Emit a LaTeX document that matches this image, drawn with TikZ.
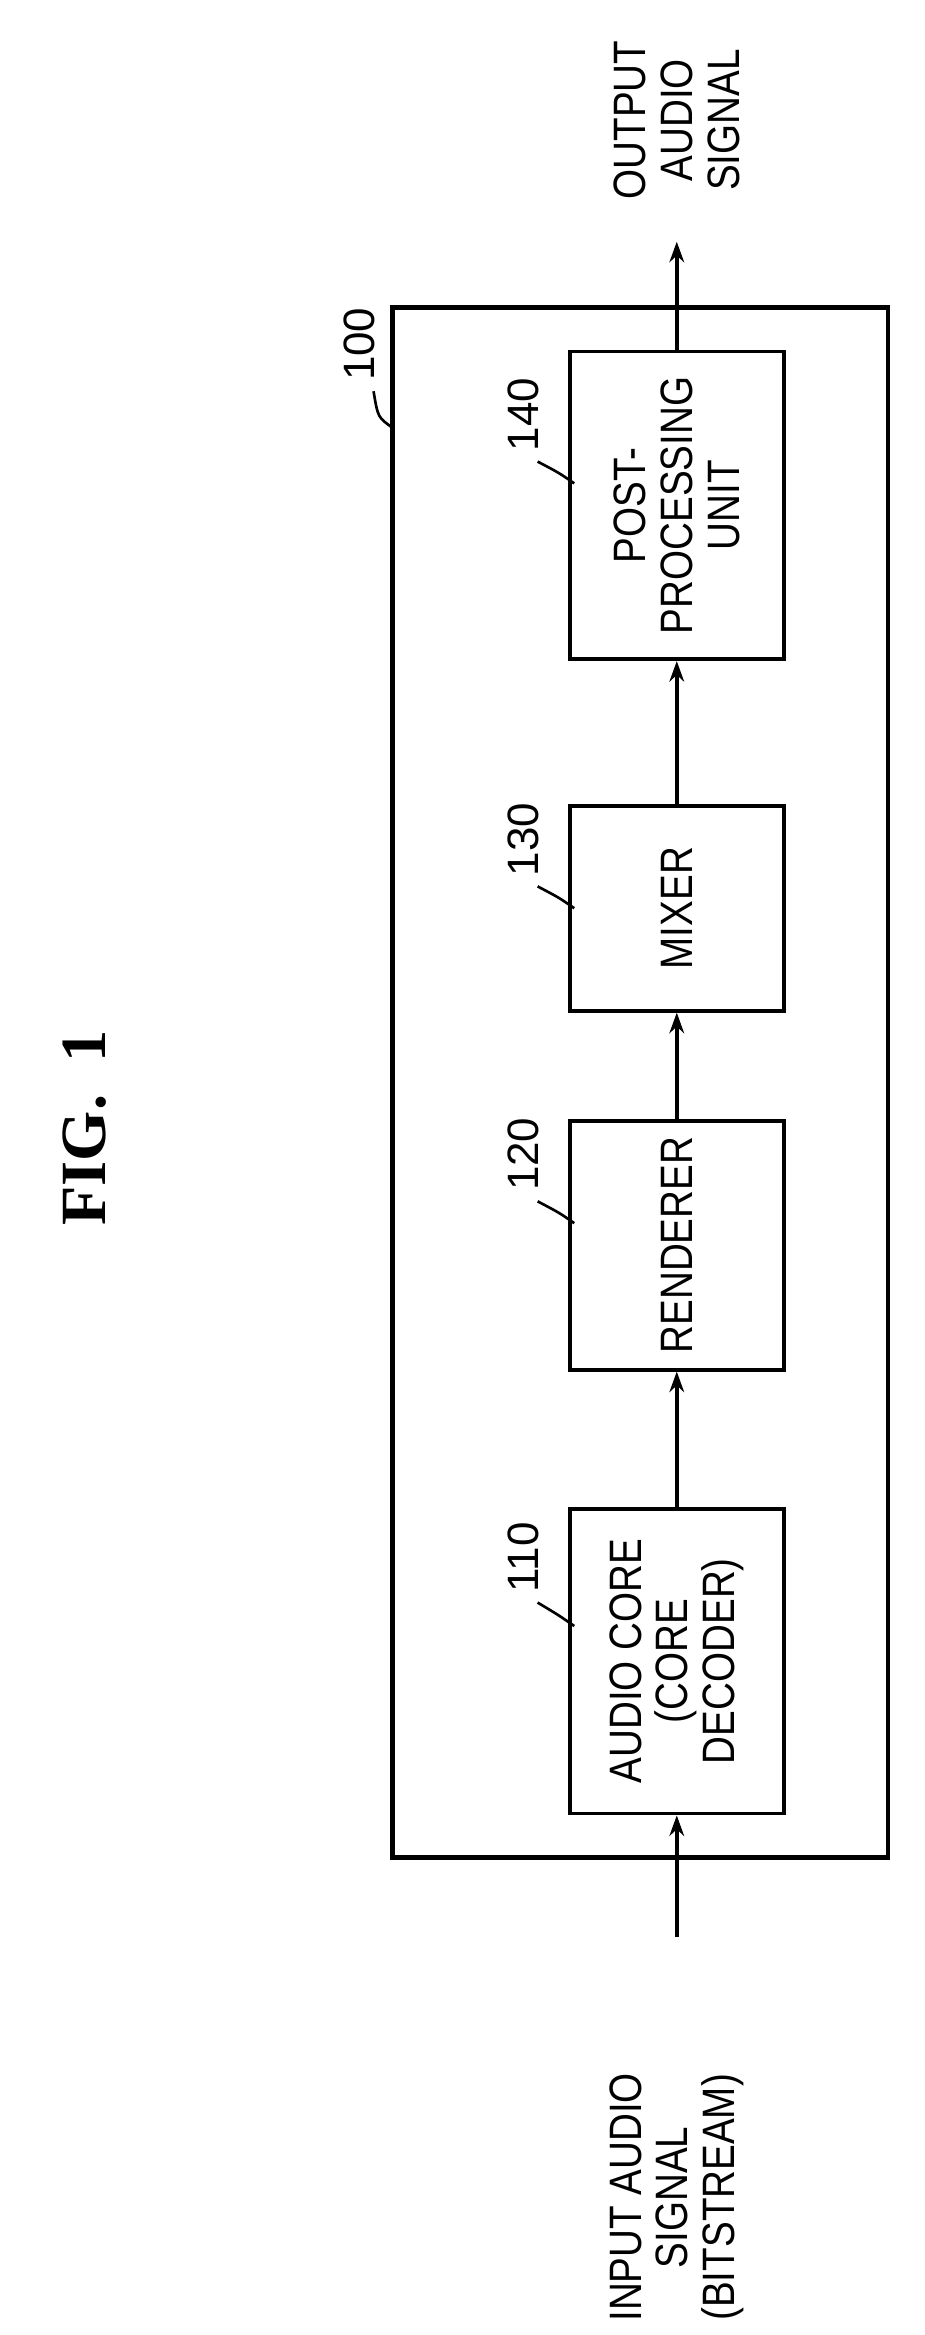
\documentclass[tikz,border=0pt]{standalone}
\usepackage{fontspec}
\setmainfont{Liberation Sans}
\usetikzlibrary{arrows.meta}
\begin{document}
\begin{tikzpicture}[x=0.5pt,y=-0.5pt,
 blk/.style={draw,line width=1.3pt,minimum width=73pt,inner sep=0pt},
 txt/.style={rotate=90,align=center,font=\fontsize{15.5}{16}\selectfont\addfontfeatures{FakeStretch=0.85}},
 num/.style={rotate=90,font=\fontsize{15}{16}\selectfont},
 arr/.style={line width=1.3pt,-{Stealth[length=7pt,width=5pt]}},
 lead/.style={line width=0.9pt}]
\useasboundingbox (0,0) rectangle (631,1594);
\node[draw,line width=1.5pt,minimum width=169pt,minimum height=529pt,inner sep=0pt] (box) at (437,739) {};
\node[blk,minimum height=104pt] (b110) at (462,1134) {};
\node[txt] at (b110) {AUDIO CORE\\(CORE\\DECODER)};
\node[blk,minimum height=85pt] (b120) at (462,850) {};
\node[txt] at (b120) {RENDERER};
\node[blk,minimum height=70pt] (b130) at (462,620) {};
\node[txt] at (b130) {MIXER};
\node[blk,minimum height=105pt] (b140) at (462,345) {};
\node[txt] at (b140) {POST-\\PROCESSING\\UNIT};
\coordinate (in) at (462,1322);
\coordinate (out) at (462,165);
\draw[arr] (in) -- (b110.south);
\draw[arr] (b110.north) -- (b120.south);
\draw[arr] (b120.north) -- (b130.south);
\draw[arr] (b130.north) -- (b140.south);
\draw[arr] (b140.north) -- (out);
\node[txt] (inl) at (462,1500) {INPUT AUDIO\\SIGNAL\\(BITSTREAM)};
\node[txt] (outl) at (462,82) {OUTPUT\\AUDIO\\SIGNAL};
\node[rotate=90,font=\bfseries\fontspec{Liberation Serif}\fontsize{22}{24}\selectfont] (fig) at (58,770) {FIG.~~1};
\node[num] (n110) at (357,1063) {110};
\node[num] (n120) at (357,788) {120};
\node[num] (n130) at (357,573) {130};
\node[num] (n140) at (357,283) {140};
\node[num] (n100) at (245,235) {100};
\draw[lead] (n110.west) ++(10,0) .. controls (382,1103) .. (392,1110);
\draw[lead] (n120.west) ++(10,0) .. controls (382,828) .. (392,835);
\draw[lead] (n130.west) ++(10,0) .. controls (382,613) .. (392,620);
\draw[lead] (n140.west) ++(10,0) .. controls (382,323) .. (392,330);
\draw[lead] (n100.west) ++(10,0) .. controls (258,285) .. (268,292);
\end{tikzpicture}
\end{document}
